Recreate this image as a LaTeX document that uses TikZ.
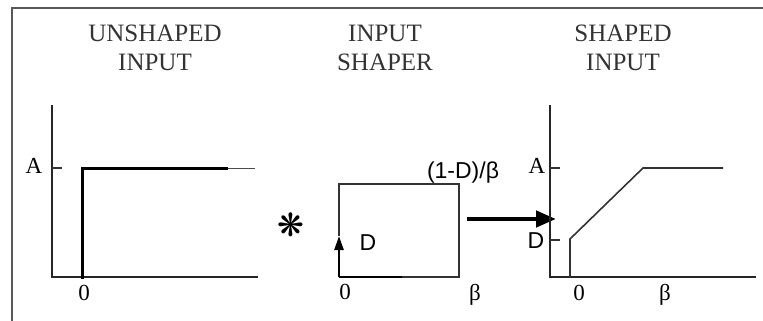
\documentclass[tikz,border=0pt]{standalone}
\usepackage{fontspec}
\setmainfont{Liberation Serif}
\newfontfamily\arialf{Liberation Sans}
\newfontfamily\djv{DejaVu Sans}
\usetikzlibrary{arrows.meta}
\begin{document}
\begin{tikzpicture}[x=1pt,y=-1pt,
  title/.style={font=\fontsize{25}{29}\selectfont, text=black!80, align=center, inner sep=0pt},
  lbl/.style={font=\fontsize{23}{26}\selectfont, inner sep=0pt},
  slbl/.style={font=\arialf\fontsize{23}{26}\selectfont, inner sep=0pt},
  axis/.style={line width=2.8pt, black!85},
  thin/.style={line width=1.6pt, black!80},
  frame/.style={line width=2pt, black!65}]
\useasboundingbox (0,0) rectangle (763,321);
% frame
\draw[frame] (12,321) -- (12,8) -- (763,8);
% titles
\node[title] (t1) at (155,48) {UNSHAPED\\INPUT};
\node[title] (t2) at (385,48) {INPUT\\SHAPER};
\node[title] (t3) at (623,48) {SHAPED\\INPUT};
% left plot
\coordinate (o1) at (52,277);
\coordinate (y1) at (52,105);
\coordinate (x1) at (258,277);
\draw[axis] (y1) -- (o1) -- (x1);
\coordinate (a1) at (52,168);
\coordinate (a1t) at (62,168);
\draw[thin] (a1) -- (a1t);
\node[lbl] (A1) at (34,166) {A};
\coordinate (s0) at (82,279);
\coordinate (s1) at (82,168);
\coordinate (s2) at (228,168);
\coordinate (s3) at (255,168);
\draw[line width=3pt, line join=miter] (s0) -- (s1) -- (s2);
\draw[line width=1pt, black!70] (s2) -- (s3);
\node[lbl] (z1) at (84,293) {0};
% asterisk
\node[font=\djv\fontsize{32}{32}\selectfont, inner sep=0pt] (star) at (291,225) {❋};
% shaper box
\coordinate (b0) at (339,277);
\coordinate (b1) at (339,184);
\coordinate (b2) at (459,184);
\coordinate (b3) at (459,277);
\coordinate (bm) at (402,277);
\coordinate (bt) at (339,236);
\draw[thin] (bt) -- (b1) -- (b2) -- (b3) -- (bm);
\draw[line width=2.4pt] (bm) -- (b0);
\draw[line width=2.4pt, -{Triangle[length=14pt,width=9pt]}] (b0) -- (bt);
\node[slbl] (D1) at (368,243) {D};
\node[slbl] (lab) at (463,173) {(1-D)/β};
\node[lbl] (z2) at (345,292) {0};
\node[lbl] (be1) at (475,295) {β};
% big arrow
\coordinate (ar0) at (467,219);
\coordinate (ar1) at (556,219);
\draw[line width=4.5pt, -{Triangle[length=20pt,width=16pt]}] (ar0) -- (ar1);
% right plot
\coordinate (o3) at (550,277);
\coordinate (y3) at (550,105);
\coordinate (x3) at (756,277);
\draw[axis] (y3) -- (o3) -- (x3);
\draw[thin] (550,168) coordinate (a3) -- (560,168) coordinate (a3t);
\draw[thin] (550,240) coordinate (d3) -- (560,240) coordinate (d3t);
\node[lbl] (A3) at (537,166) {A};
\node[slbl] (D3) at (536,241) {D};
\coordinate (c0) at (570,277);
\coordinate (c1) at (570,239);
\coordinate (c2) at (643,168);
\coordinate (c3) at (723,168);
\draw[thin, line join=miter] (c0) -- (c1) -- (c2) -- (c3);
\node[lbl] (z3) at (579,293) {0};
\node[lbl] (be3) at (665,295) {β};
\end{tikzpicture}
\end{document}
